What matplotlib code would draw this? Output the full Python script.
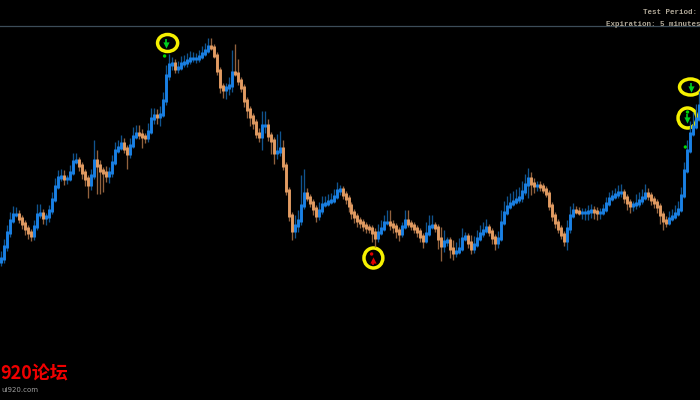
import matplotlib
matplotlib.use("Agg")
import numpy as np
import matplotlib.pyplot as plt
from matplotlib.patches import Ellipse

# chart height, one bar every 3 px
closes = [258,246,232,220,214,214,218,223,228,232,235,226,214,213,217,216,210,199,186,177,
          176,178,178,172,161,160,165,172,178,184,175,160,165,170,172,175,172,162,150,147,
          143,148,153,145,136,133,134,136,137,131,118,115,116,114,100,75,64,63,68,67,
          63,62,60,58,58,58,56,53,50,46,47,55,70,86,89,87,85,72,73,80,
          87,100,109,116,122,133,136,125,125,135,140,152,151,148,165,190,215,230,225,220,
          205,193,197,202,208,215,210,204,203,201,200,196,190,189,194,198,205,212,216,220,
          222,225,227,228,232,237,232,228,222,222,224,226,230,233,226,220,223,225,228,231,
          236,240,233,226,225,227,238,245,241,240,248,252,251,248,238,236,242,248,244,238,
          233,230,227,231,237,242,238,222,212,206,203,201,199,197,191,184,178,183,185,185,
          186,189,193,205,215,222,228,234,240,228,215,210,211,212,212,212,211,210,211,212,
          212,209,203,198,196,194,192,192,197,202,205,204,203,200,197,193,195,199,202,206,
          214,220,222,218,216,213,209,195,170,150,133,126,118,105]

wick_up = [5,5,5,6,6,5,2,1,1,1,1,4,8,7,2,1,3,5,6,5,
           5,4,1,5,6,5,1,1,1,1,4,18,8,3,1,4,3,5,6,5,
           6,3,1,5,7,6,6,3,1,6,8,5,4,6,6,8,8,4,2,4,
           5,5,5,5,4,3,4,5,5,6,6,1,1,1,1,2,6,20,26,12,
           1,1,1,1,1,1,3,12,12,4,1,1,15,15,6,1,1,1,8,8,
           28,22,3,1,1,1,6,6,5,5,5,5,6,2,1,1,1,1,1,1,
           1,1,1,1,1,2,6,6,5,10,10,2,1,1,2,8,8,1,1,1,
           1,1,9,9,8,1,1,9,9,1,1,6,7,8,8,2,1,5,6,6,
           6,6,6,1,1,1,5,10,9,8,8,8,8,8,8,8,8,4,3,2,
           2,1,1,1,1,1,1,1,1,6,7,5,2,2,2,2,4,4,2,2,
           2,3,4,4,4,4,5,6,1,1,1,1,7,6,6,7,3,1,1,1,
           1,1,2,5,5,6,6,6,6,8,10,12,12,12]

wick_dn = [3,3,3,3,1,1,3,4,5,5,4,3,2,2,5,6,4,2,1,1,
           2,5,4,1,1,1,4,5,6,12,4,2,27,22,18,5,6,3,1,1,
           1,3,14,3,1,1,3,10,4,3,1,4,6,8,1,3,3,4,3,3,
           1,2,3,2,2,3,2,1,1,1,1,1,3,5,7,8,6,5,1,3,
           3,5,7,8,5,3,4,12,6,4,12,10,5,3,3,3,4,8,6,5,
           3,2,2,3,5,5,3,2,1,1,1,1,1,3,3,4,5,5,5,5,
           4,4,4,3,8,8,3,1,1,1,4,5,6,6,2,1,2,3,3,4,
           4,6,1,1,1,3,9,14,5,3,8,6,3,1,1,1,4,4,3,1,
           1,2,1,3,5,6,4,1,1,1,1,1,1,2,3,2,12,10,6,4,
           3,2,2,3,4,4,3,3,4,8,3,1,1,1,5,6,6,5,6,6,
           5,1,1,1,1,1,2,3,4,6,6,4,3,2,2,1,3,4,4,5,
           8,8,3,1,1,1,1,1,1,1,1,1,1,1]

# signals: bar number, height
sell_bars = [55.3, 230.3, 229]
sell_y = [43, 87, 118]
buy_bars = [124.3]
buy_y = [261]
circle_bars = [55.7, 124.3, 230, 229]
circle_y = [43, 258, 87, 118]
circle_w = [6.7, 6.3, 7.3, 6.3]
circle_h = [17, 20, 16, 20]
dot_bars = [54.7, 123.7, 228.3, 229]
dot_y = [56, 254, 147, 112]
dot_colors = ["#00d800", "#e00000", "#00d800", "#00d800"]

blue = "#1a80e4"
orange = "#e29c62"
blue_dim = "#11548f"
orange_dim = "#92623e"

closes = np.array(closes)
wick_up = np.array(wick_up)
wick_dn = np.array(wick_dn)
bars = np.arange(len(closes))
opens = np.r_[closes[0] + 3, closes[:-1]]
rising = closes <= opens

fig = plt.figure(figsize=(7, 4), dpi=100, facecolor="black")
ax = fig.add_axes([0, 0, 1, 1], facecolor="black")
ax.set_xlim(-0.17, 233.17)
ax.set_ylim(400, 0)
ax.axis("off")

top = np.minimum(opens, closes)
bottom = np.maximum(opens, closes)
ax.vlines(bars, top - wick_up - 2, bottom + wick_dn + 2, colors=np.where(rising, blue_dim, orange_dim), linewidth=0.95)
ax.vlines(bars, top - 1, bottom + 1.5, colors=np.where(rising, blue, orange), linewidth=2.1)

ax.axhline(26, color="#3c4c58", linewidth=0.9)

for x, y, w, h in zip(circle_bars, circle_y, circle_w, circle_h):
    ax.add_patch(Ellipse((x, y), w, h, fill=False, edgecolor="#f5f000", linewidth=2.5))
ax.scatter(dot_bars, dot_y, s=6, c=dot_colors, linewidths=0)
# stem plus a wide head, like the platform's arrow signs
ax.vlines(sell_bars, np.array(sell_y) - 4, np.array(sell_y) + 1, color="#00d020", linewidth=1.2)
ax.scatter(sell_bars, np.array(sell_y) + 1.5, s=20, marker="v", c="#00d020", linewidths=0)
ax.vlines(buy_bars, np.array(buy_y) - 1, np.array(buy_y) + 4, color="#e00000", linewidth=1.2)
ax.scatter(buy_bars, np.array(buy_y) - 1.5, s=20, marker="^", c="#e00000", linewidths=0)

ax.text(643 / 700, 1 - 13 / 400, "Test Period:", transform=ax.transAxes, color="#b0a898",
        family="Liberation Mono", fontweight="bold", fontsize=5.4, va="center")
ax.text(606 / 700, 1 - 25 / 400, "Expiration: 5 minutes", transform=ax.transAxes, color="#b0a898",
        family="Liberation Mono", fontweight="bold", fontsize=5.4, va="center")
ax.text(0.5 / 700, 1 - 374 / 400, "920论坛", transform=ax.transAxes, color="#f00000",
        family=["Noto Sans CJK SC", "DejaVu Sans"], fontsize=13, fontweight="bold", va="center")
ax.text(1 / 700, 1 - 390 / 400, "ui920.com", transform=ax.transAxes, color="#a0a0a0",
        fontsize=5, va="center")

fig.savefig("out.png", dpi=100, facecolor="black")
